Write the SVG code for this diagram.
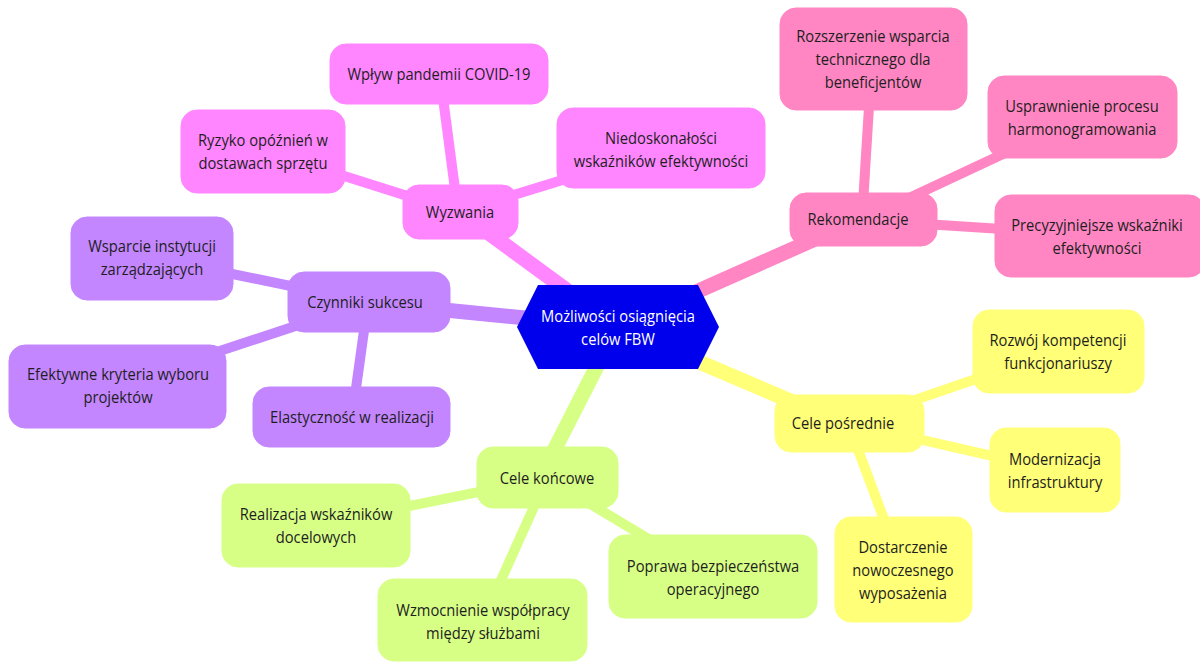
<svg xmlns="http://www.w3.org/2000/svg" width="1200" height="662" viewBox="0 0 1200 662">
  <style>
    .lbl { font-family: "Open Sans", "Liberation Sans", sans-serif; font-size: 16px; fill: #1e1e1e; text-anchor: middle; dominant-baseline: central; }
    .root-lbl { fill: #ffffff; }
    .e0 { stroke-width: 15; stroke-linecap: butt; fill: none; }
    .e1 { stroke-width: 10; stroke-linecap: butt; fill: none; }
    .c-pink { fill: #ff86ff; stroke: #ff86ff; }
    .c-rose { fill: #ff86c3; stroke: #ff86c3; }
    .c-violet { fill: #c386ff; stroke: #c386ff; }
    .c-yellow { fill: #ffff78; stroke: #ffff78; }
    .c-lime { fill: #d7ff86; stroke: #d7ff86; }
  </style>
  <rect width="1200" height="662" fill="#ffffff"/>

  <g id="connectors">
    <!-- root branches -->
    <line class="e0 c-pink" x1="617" y1="327" x2="460" y2="212"/>
    <line class="e0 c-rose" x1="617" y1="327" x2="858" y2="220"/>
    <line class="e0 c-violet" x1="617" y1="327" x2="364" y2="302"/>
    <line class="e0 c-yellow" x1="617" y1="327" x2="842" y2="423"/>
    <line class="e0 c-lime" x1="617" y1="327" x2="540" y2="478"/>
    <!-- Wyzwania -->
    <line class="e1 c-pink" x1="458" y1="212" x2="440" y2="75"/>
    <line class="e1 c-pink" x1="458" y1="212" x2="262" y2="150"/>
    <line class="e1 c-pink" x1="458" y1="212" x2="660" y2="150"/>
    <!-- Rekomendacje -->
    <line class="e1 c-rose" x1="862" y1="220" x2="872" y2="58"/>
    <line class="e1 c-rose" x1="862" y1="220" x2="1080" y2="118"/>
    <line class="e1 c-rose" x1="862" y1="220" x2="1097" y2="235"/>
    <!-- Czynniki sukcesu -->
    <line class="e1 c-violet" x1="368" y1="302" x2="150" y2="257"/>
    <line class="e1 c-violet" x1="368" y1="302" x2="117" y2="385"/>
    <line class="e1 c-violet" x1="368" y1="302" x2="352" y2="417"/>
    <!-- Cele pośrednie -->
    <line class="e1 c-yellow" x1="848" y1="423" x2="1060" y2="350"/>
    <line class="e1 c-yellow" x1="848" y1="423" x2="1054" y2="470"/>
    <line class="e1 c-yellow" x1="848" y1="423" x2="903" y2="570"/>
    <!-- Cele końcowe -->
    <line class="e1 c-lime" x1="547" y1="478" x2="316" y2="525"/>
    <line class="e1 c-lime" x1="547" y1="478" x2="483" y2="620"/>
    <line class="e1 c-lime" x1="547" y1="478" x2="712" y2="577"/>
  </g>

  <!-- labels are narrowed slightly with a horizontal scale around each node centre -->
  <g id="root">
    <polygon points="517,327 538,285 698,285 719,327 698,369 538,369" fill="#0000ec"/>
    <g transform="translate(618 327) scale(0.92 1)">
      <text class="lbl root-lbl" y="-11">Możliwości osiągnięcia</text>
      <text class="lbl root-lbl" y="12">celów FBW</text>
    </g>
  </g>

  <!-- Wyzwania branch -->
  <g id="wyzwania">
    <rect class="c-pink" x="403" y="185" width="115" height="54" rx="16"/>
    <text class="lbl" transform="translate(460 212) scale(0.92 1)">Wyzwania</text>
  </g>
  <g id="covid">
    <rect class="c-pink" x="330" y="44" width="218" height="60" rx="16"/>
    <text class="lbl" transform="translate(439 74) scale(0.92 1)">Wpływ pandemii COVID-19</text>
  </g>
  <g id="ryzyko">
    <rect class="c-pink" x="181" y="110" width="164" height="83" rx="16"/>
    <g transform="translate(263 151.5) scale(0.92 1)">
      <text class="lbl" y="-11.5">Ryzyko opóźnień w</text>
      <text class="lbl" y="11.5">dostawach sprzętu</text>
    </g>
  </g>
  <g id="niedoskonalosci">
    <rect class="c-pink" x="557" y="108" width="208" height="80" rx="16"/>
    <g transform="translate(661 149.5) scale(0.92 1)">
      <text class="lbl" y="-11.5">Niedoskonałości</text>
      <text class="lbl" y="11.5">wskaźników efektywności</text>
    </g>
  </g>

  <!-- Rekomendacje branch -->
  <g id="rekomendacje">
    <rect class="c-rose" x="790" y="193" width="147" height="53" rx="16"/>
    <text class="lbl" transform="translate(858 219) scale(0.92 1)">Rekomendacje</text>
  </g>
  <g id="rozszerzenie">
    <rect class="c-rose" x="780" y="8" width="187" height="102" rx="16"/>
    <g transform="translate(873 59) scale(0.92 1)">
      <text class="lbl" y="-22.5">Rozszerzenie wsparcia</text>
      <text class="lbl" y="0.5">technicznego dla</text>
      <text class="lbl" y="23">beneficjentów</text>
    </g>
  </g>
  <g id="usprawnienie">
    <rect class="c-rose" x="988" y="76" width="189" height="82" rx="16"/>
    <g transform="translate(1082 117.5) scale(0.92 1)">
      <text class="lbl" y="-11.5">Usprawnienie procesu</text>
      <text class="lbl" y="11.5">harmonogramowania</text>
    </g>
  </g>
  <g id="precyzyjniejsze">
    <rect class="c-rose" x="995" y="195" width="210" height="82" rx="16"/>
    <g transform="translate(1097 236.5) scale(0.92 1)">
      <text class="lbl" y="-11.5">Precyzyjniejsze wskaźniki</text>
      <text class="lbl" y="11.5">efektywności</text>
    </g>
  </g>

  <!-- Czynniki sukcesu branch -->
  <g id="czynniki">
    <rect class="c-violet" x="288" y="272" width="162" height="60" rx="16"/>
    <text class="lbl" transform="translate(365 302) scale(0.92 1)">Czynniki sukcesu</text>
  </g>
  <g id="wsparcie">
    <rect class="c-violet" x="71" y="217" width="162" height="83" rx="16"/>
    <g transform="translate(152 257.5) scale(0.92 1)">
      <text class="lbl" y="-11.5">Wsparcie instytucji</text>
      <text class="lbl" y="11.5">zarządzających</text>
    </g>
  </g>
  <g id="efektywne">
    <rect class="c-violet" x="9" y="345" width="217" height="83" rx="16"/>
    <g transform="translate(118 385.5) scale(0.92 1)">
      <text class="lbl" y="-11.5">Efektywne kryteria wyboru</text>
      <text class="lbl" y="11.5">projektów</text>
    </g>
  </g>
  <g id="elastycznosc">
    <rect class="c-violet" x="253" y="387" width="197" height="60" rx="16"/>
    <text class="lbl" transform="translate(352 417) scale(0.92 1)">Elastyczność w realizacji</text>
  </g>

  <!-- Cele pośrednie branch -->
  <g id="cele-posrednie">
    <rect class="c-yellow" x="775" y="395" width="149" height="57" rx="16"/>
    <text class="lbl" transform="translate(843 423) scale(0.92 1)">Cele pośrednie</text>
  </g>
  <g id="rozwoj">
    <rect class="c-yellow" x="973" y="310" width="171" height="83" rx="16"/>
    <g transform="translate(1058 351.5) scale(0.92 1)">
      <text class="lbl" y="-11.5">Rozwój kompetencji</text>
      <text class="lbl" y="11.5">funkcjonariuszy</text>
    </g>
  </g>
  <g id="modernizacja">
    <rect class="c-yellow" x="990" y="428" width="130" height="84" rx="16"/>
    <g transform="translate(1055 470.5) scale(0.92 1)">
      <text class="lbl" y="-11.5">Modernizacja</text>
      <text class="lbl" y="11.5">infrastruktury</text>
    </g>
  </g>
  <g id="dostarczenie">
    <rect class="c-yellow" x="835" y="517" width="137" height="105" rx="16"/>
    <g transform="translate(903 570) scale(0.92 1)">
      <text class="lbl" y="-22.5">Dostarczenie</text>
      <text class="lbl" y="0.5">nowoczesnego</text>
      <text class="lbl" y="23">wyposażenia</text>
    </g>
  </g>

  <!-- Cele końcowe branch -->
  <g id="cele-koncowe">
    <rect class="c-lime" x="477" y="447" width="141" height="61" rx="16"/>
    <text class="lbl" transform="translate(547 478) scale(0.92 1)">Cele końcowe</text>
  </g>
  <g id="realizacja">
    <rect class="c-lime" x="222" y="484" width="188" height="83" rx="16"/>
    <g transform="translate(316 525.5) scale(0.92 1)">
      <text class="lbl" y="-11.5">Realizacja wskaźników</text>
      <text class="lbl" y="11.5">docelowych</text>
    </g>
  </g>
  <g id="wzmocnienie">
    <rect class="c-lime" x="378" y="579" width="209" height="82" rx="16"/>
    <g transform="translate(483 621.5) scale(0.92 1)">
      <text class="lbl" y="-11.5">Wzmocnienie współpracy</text>
      <text class="lbl" y="11.5">między służbami</text>
    </g>
  </g>
  <g id="poprawa">
    <rect class="c-lime" x="609" y="535" width="208" height="83" rx="16"/>
    <g transform="translate(713 577.5) scale(0.92 1)">
      <text class="lbl" y="-11.5">Poprawa bezpieczeństwa</text>
      <text class="lbl" y="11.5">operacyjnego</text>
    </g>
  </g>
</svg>
